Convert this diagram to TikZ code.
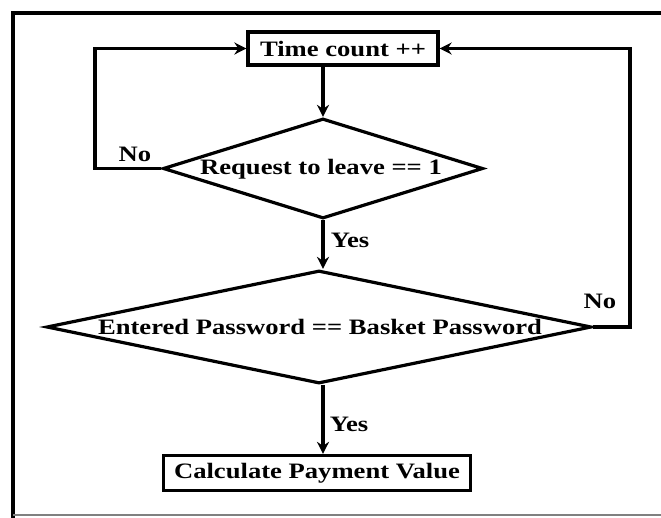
\documentclass[tikz,border=0pt]{standalone}
\usepackage{fontspec}
\newfontfamily\lbl{Liberation Serif}[FakeStretch=1.21]
\usetikzlibrary{shapes.geometric,arrows.meta}
\begin{document}
\begin{tikzpicture}[x=1pt,y=-1pt,
  every node/.style={font=\lbl\bfseries\fontsize{22}{25}\selectfont},
  procbox/.style={draw,line width=3.2pt,inner sep=0pt,minimum width=#1},
  decision/.style={draw,diamond,line width=3.2pt,inner sep=0pt},
  flow/.style={line width=3.2pt,-{Stealth[length=12pt,width=12pt]}},
  lab/.style={inner sep=0pt}]
\useasboundingbox (0,0) rectangle (661,517);
\fill[white] (0,0) rectangle (661,517);
% frame
\draw[line width=3.6pt] (13,520) -- (13,13) -- (670,13);
\draw[line width=1.4pt,black!50] (13,515) -- (670,515);
% nodes
\node[procbox=190pt,minimum height=33pt] (b1) at (343,48.5) {Time count ++};
\node[decision,minimum width=320pt,minimum height=100pt] (d1) at (323,168.5) {};
\node[lab] (t1) at (321,169) {Request to leave == 1};
\node[decision,minimum width=545pt,minimum height=113pt] (d2) at (319,327) {};
\node[lab] (t2) at (320,327) {Entered Password == Basket Password};
\node[procbox=307pt,minimum height=35pt] (b3) at (317,473) {Calculate Payment Value};
% loop corners
\coordinate (c1) at (95,48.5);
\coordinate (c2) at (630,48.5);
% connectors
\draw[flow] (b1.south -| d1.north) -- (d1.north);
\draw[flow] (d1.south) -- (d1.south |- d2.north);
\draw[flow] (d1.south |- d2.south) -- (b3.north -| d1.south);
\draw[flow] (d1.west) -| (c1) -- (b1.west);
\draw[flow] (d2.east) -| (c2) -- (b1.east);
% labels
\node[lab] (no1) at (135,154) {No};
\node[lab] (y1) at (350,240) {Yes};
\node[lab] (no2) at (600,301) {No};
\node[lab] (y2) at (349,424) {Yes};
\end{tikzpicture}
\end{document}
